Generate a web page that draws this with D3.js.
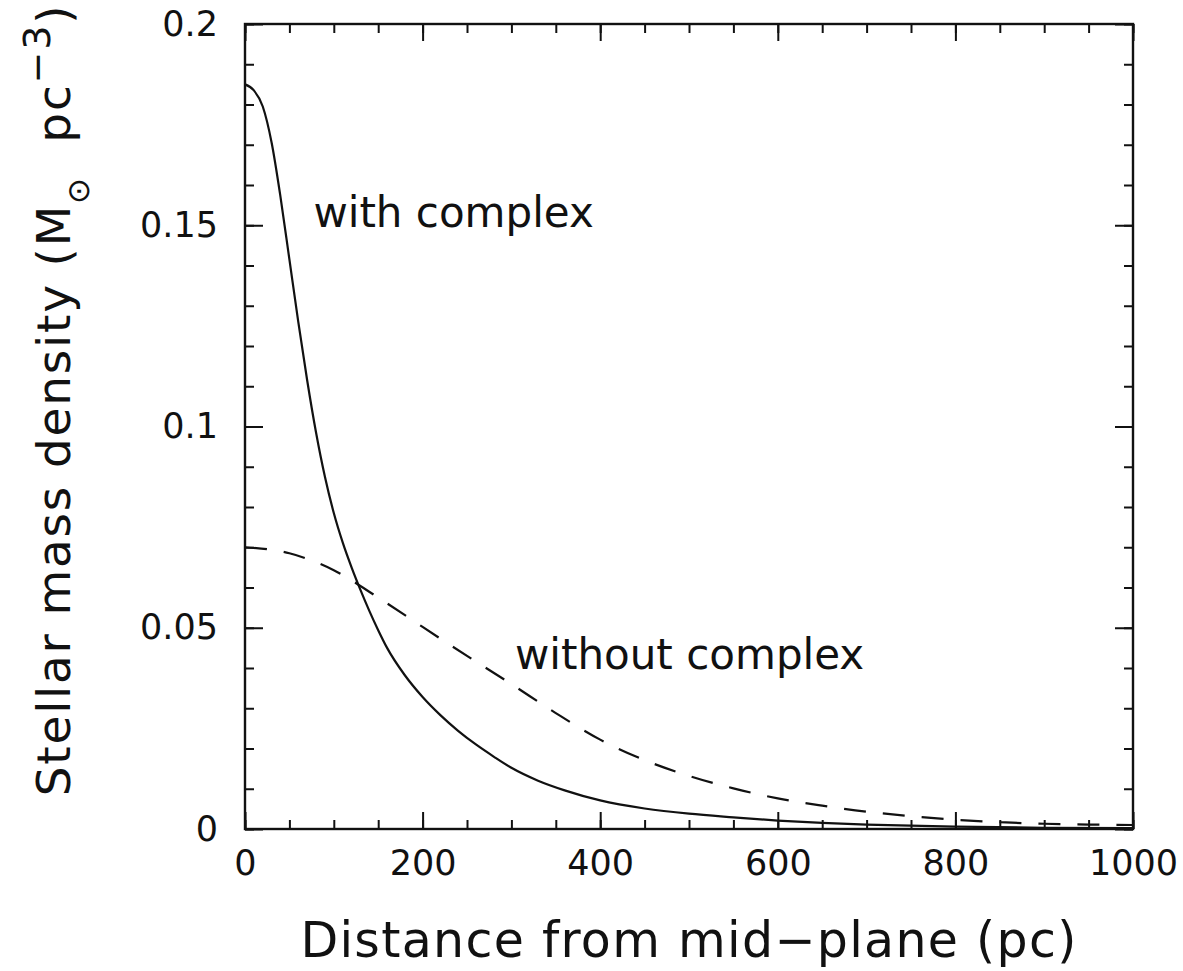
<!DOCTYPE html>
<html>
<head>
<meta charset="utf-8">
<script src="https://cdn.jsdelivr.net/npm/d3@7"></script>
<style>
  body { margin: 0; background: #fff; }
  text { font-family: "DejaVu Sans", sans-serif; fill: #111; }
</style>
</head>
<body>
<div id="chart"></div>
<script>
// values
const withDistance = [0, 10, 20, 30, 40, 50, 60, 70, 80, 90, 100, 110, 120, 130, 140, 150, 160, 180, 200, 220, 240, 260, 280, 300, 330, 360, 400, 450, 500, 550, 600, 650, 700, 800, 900, 1000];
const withDensity = [0.185, 0.1835, 0.1795, 0.1705, 0.157, 0.1415, 0.126, 0.1115, 0.0985, 0.0875, 0.0785, 0.0712, 0.065, 0.0594, 0.0542, 0.0494, 0.045, 0.0382, 0.0328, 0.0283, 0.0244, 0.021, 0.018, 0.0152, 0.012, 0.0096, 0.0071, 0.0051, 0.0038, 0.0029, 0.0021, 0.0015, 0.0011, 0.0006, 0.0003, 0.0002];

const withoutDistance = [0, 50, 100, 150, 200, 250, 300, 350, 400, 450, 500, 550, 600, 650, 700, 750, 800, 850, 900, 950, 1000];
const withoutDensity = [0.070, 0.0685, 0.0643, 0.0575, 0.0502, 0.043, 0.036, 0.0288, 0.0222, 0.0171, 0.0132, 0.0101, 0.0076, 0.0058, 0.0043, 0.0032, 0.0023, 0.0017, 0.0013, 0.0011, 0.001];

const xMajor = [0, 200, 400, 600, 800, 1000];
const xMinor = d3.range(0, 1001, 50);
const yMajor = [0, 0.05, 0.1, 0.15, 0.2];
const yMinor = d3.range(0, 0.2001, 0.01);

const width = 1183, height = 971;
const margin = { top: 24, right: 50, bottom: 142, left: 245 };
const w = width - margin.left - margin.right,
      h = height - margin.top - margin.bottom;

const svg = d3.select("#chart").append("svg")
    .attr("width", width)
    .attr("height", height);

svg.append("rect").attr("width", width).attr("height", height).attr("fill", "#fff");

const g = svg.append("g")
    .attr("transform", "translate(" + margin.left + "," + margin.top + ")");

const x = d3.scaleLinear().domain([0, 1000]).range([0, w]);
const y = d3.scaleLinear().domain([0, 0.2]).range([h, 0]);

const fmtY = d => d === 0 ? "0" : String(+d.toFixed(2));

// ticks on all four sides, pointing in
function styleAxis(sel) {
    sel.select(".domain").remove();
    sel.selectAll(".tick line").attr("stroke", "#111").attr("stroke-width", 2);
    sel.selectAll("text").attr("font-size", 35).attr("fill", "#111")
        .style("font-family", '"DejaVu Sans", sans-serif');
}

g.append("g").attr("transform", "translate(0," + h + ")")
    .call(d3.axisBottom(x).tickValues(xMinor).tickSize(-9).tickFormat(""))
    .call(styleAxis);
g.append("g").attr("transform", "translate(0," + h + ")")
    .call(d3.axisBottom(x).tickValues(xMajor).tickSize(-17).tickPadding(21).tickFormat(d3.format("d")))
    .call(styleAxis);
g.append("g")
    .call(d3.axisTop(x).tickValues(xMinor).tickSize(-9).tickFormat(""))
    .call(styleAxis);
g.append("g")
    .call(d3.axisTop(x).tickValues(xMajor).tickSize(-17).tickFormat(""))
    .call(styleAxis);

g.append("g")
    .call(d3.axisLeft(y).tickValues(yMinor).tickSize(-9).tickFormat(""))
    .call(styleAxis);
g.append("g")
    .call(d3.axisLeft(y).tickValues(yMajor).tickSize(-18).tickPadding(27).tickFormat(fmtY))
    .call(styleAxis);
g.append("g").attr("transform", "translate(" + w + ",0)")
    .call(d3.axisRight(y).tickValues(yMinor).tickSize(-9).tickFormat(""))
    .call(styleAxis);
g.append("g").attr("transform", "translate(" + w + ",0)")
    .call(d3.axisRight(y).tickValues(yMajor).tickSize(-18).tickFormat(""))
    .call(styleAxis);

// frame
g.append("rect")
    .attr("width", w).attr("height", h)
    .attr("fill", "none").attr("stroke", "#111").attr("stroke-width", 2.4);

const line = d3.line()
    .x(d => x(d[0]))
    .y(d => y(d[1]))
    .curve(d3.curveMonotoneX);

g.append("path")
    .datum(d3.zip(withDistance, withDensity))
    .attr("d", line)
    .attr("fill", "none").attr("stroke", "#111").attr("stroke-width", 2.2);

g.append("path")
    .datum(d3.zip(withoutDistance, withoutDensity))
    .attr("d", line)
    .attr("fill", "none").attr("stroke", "#111").attr("stroke-width", 2.2)
    .attr("stroke-dasharray", "22,17");

// labels on the curves
g.append("text").attr("x", x(77)).attr("y", y(0.1496))
    .attr("font-size", 42).text("with complex");
g.append("text").attr("x", x(304)).attr("y", y(0.0398))
    .attr("font-size", 42).text("without complex");

// axis titles
svg.append("text")
    .attr("x", margin.left + w / 2).attr("y", 957)
    .attr("text-anchor", "middle")
    .attr("font-size", 49)
    .style("letter-spacing", "1.3px")
    .text("Distance from mid\u2212plane (pc)");

const yt = svg.append("text")
    .attr("transform", "translate(70,400) rotate(-90)")
    .attr("text-anchor", "middle")
    .attr("font-size", 47)
    .style("letter-spacing", "1.8px")
    .style("white-space", "pre");
yt.append("tspan").text("Stellar mass density (M");
yt.append("tspan").attr("font-size", 31).attr("dy", 19).text("\u2299");
yt.append("tspan").attr("dy", -19).text("  pc");
yt.append("tspan").attr("font-size", 38).attr("dy", -20).text("\u22123");
yt.append("tspan").attr("dy", 20).text(")");
</script>
</body>
</html>
